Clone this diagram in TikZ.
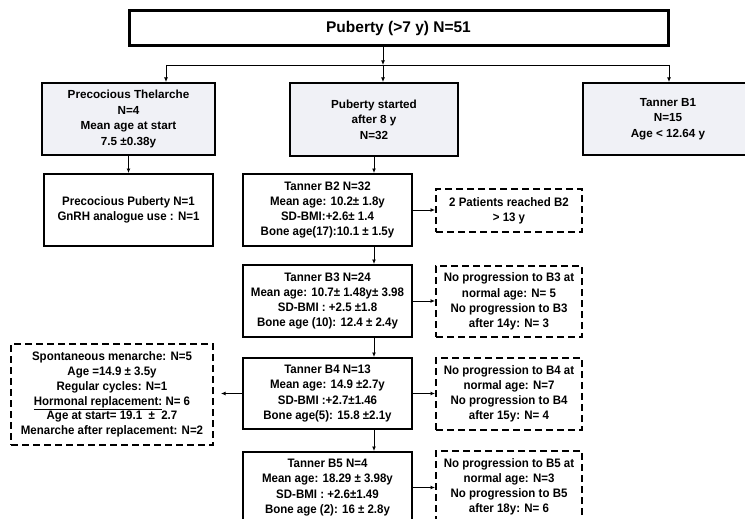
\documentclass[tikz,border=0pt]{standalone}
\usepackage{fontspec}
\setmainfont{Liberation Sans}
\newfontfamily\narrowfont[FakeStretch=0.935]{Liberation Sans}
\usetikzlibrary{arrows.meta}
\definecolor{boxfill}{HTML}{F0F1F6}
\tikzset{
  toprow/.style={draw, line width=2pt, fill=boxfill, align=center, inner sep=0pt,
    font=\fontsize{11.7}{15.6}\selectfont\bfseries},
  solidbox/.style={draw, line width=2pt, fill=white, align=center, inner sep=0pt,
    minimum width=169pt, minimum height=72pt,
    font=\narrowfont\fontsize{12.3}{15.2}\selectfont\bfseries},
  dashbox/.style={draw, line width=2pt, dash pattern=on 7pt off 4pt, fill=white,
    align=center, inner sep=0pt, minimum width=146pt,
    font=\narrowfont\fontsize{12.3}{15.2}\selectfont\bfseries},
  conn/.style={line width=0.9pt},
  arr/.style={line width=0.9pt, -{Latex[length=4.5pt,width=4pt]}}
}
\begin{document}
\begin{tikzpicture}[x=1pt,y=-1pt]
\clip (0,0) rectangle (745,519);
\fill[white] (0,0) rectangle (745,519);

% top box
\node[draw, line width=3pt, fill=white, inner sep=0pt, minimum width=539pt, minimum height=35pt,
  font=\fontsize{15.5}{18}\selectfont\bfseries] (top) at (398.5,28.5) {Puberty (>7 y) N=51};

% top row
\node[toprow, minimum width=173pt, minimum height=72pt] (thel) at (128.5,119)
  {Precocious Thelarche\\N=4\\Mean age at start\\7.5 ±0.38y};
\node[toprow, minimum width=168pt, minimum height=73pt] (mid) at (374,119.5)
  {Puberty started\\after 8 y\\N=32};
\node[toprow, minimum width=170pt, minimum height=72pt] (b1) at (668,119)
  {Tanner B1\\N=15\\Age < 12.64 y};

% second column boxes
\node[solidbox] (pp) at (128.5,210) {Precocious Puberty N=1\\GnRH analogue use : N=1};
\node[solidbox] (b2) at (327.5,210)
  {Tanner B2 N=32\\Mean age: 10.2± 1.8y\\SD-BMI:+2.6± 1.4\\Bone age(17):10.1 ± 1.5y};
\node[solidbox] (b3) at (327.5,301)
  {Tanner B3 N=24\\Mean age: 10.7± 1.48y± 3.98\\SD-BMI : +2.5 ±1.8\\Bone age (10): 12.4 ± 2.4y};
\node[solidbox, minimum height=71pt] (b4) at (327.5,393.5)
  {Tanner B4 N=13\\Mean age: 14.9 ±2.7y\\SD-BMI :+2.7±1.46\\Bone age(5): 15.8 ±2.1y};
\node[solidbox, minimum height=71pt] (b5) at (327.5,487.5)
  {Tanner B5 N=4\\Mean age: 18.29 ± 3.98y\\SD-BMI : +2.6±1.49\\Bone age (2): 16 ± 2.8y};

% dashed boxes right
\node[dashbox, minimum height=43pt] (d2) at (509,210.5) {2 Patients reached B2\\> 13 y};
\node[dashbox, minimum height=71pt] (d3) at (509,301.5)
  {No progression to B3 at\\normal age: N= 5\\No progression to B3\\after 14y: N= 3};
\node[dashbox, minimum height=72pt] (d4) at (509,394)
  {No progression to B4 at\\normal age: N=7\\No progression to B4\\after 15y: N= 4};
\node[dashbox, minimum height=72pt] (d5) at (509,487)
  {No progression to B5 at\\normal age: N=3\\No progression to B5\\after 18y: N= 6};

% dashed box left
\node[dashbox, minimum width=202pt, minimum height=101pt,
  font=\narrowfont\fontsize{12.3}{14.8}\selectfont\bfseries] (dl) at (112,394.5)
  {Spontaneous menarche: N=5\\Age =14.9 ± 3.5y\\Regular cycles: N=1\\\underline{Hormonal replacement:} N= 6\\Age at start= 19.1 \ ± \ 2.7\\Menarche after replacement: N=2};

% connectors from top
\coordinate (j) at (383,65);
\coordinate (jl) at (166,65);
\coordinate (jr) at (669,65);
\draw[arr] (top.south -| j) -- (j);
\draw[conn] (jl) -- (jr);
\draw[arr] (jl) -- (jl |- thel.north);
\draw[arr] (j) -- (j |- mid.north);
\draw[arr] (jr) -- (jr |- b1.north);

% vertical chain
\draw[arr] (thel.south) -- (pp.north);
\draw[arr] (mid.south) -- (mid.south |- b2.north);
\draw[arr] (b2.south -| mid) -- (b3.north -| mid);
\draw[arr] (b3.south -| mid) -- (b4.north -| mid);
\draw[arr] (b4.south -| mid) -- (b5.north -| mid);

% side arrows
\draw[arr] (b2.east) -- (b2.east -| d2.west);
\draw[arr] (b3.east) -- (b3.east -| d3.west);
\draw[arr] (b4.east) -- (b4.east -| d4.west);
\draw[arr] (b5.east) -- (b5.east -| d5.west);
\draw[arr, shorten >=7pt] (b4.west) -- (b4.west -| dl.east);
\end{tikzpicture}
\end{document}
